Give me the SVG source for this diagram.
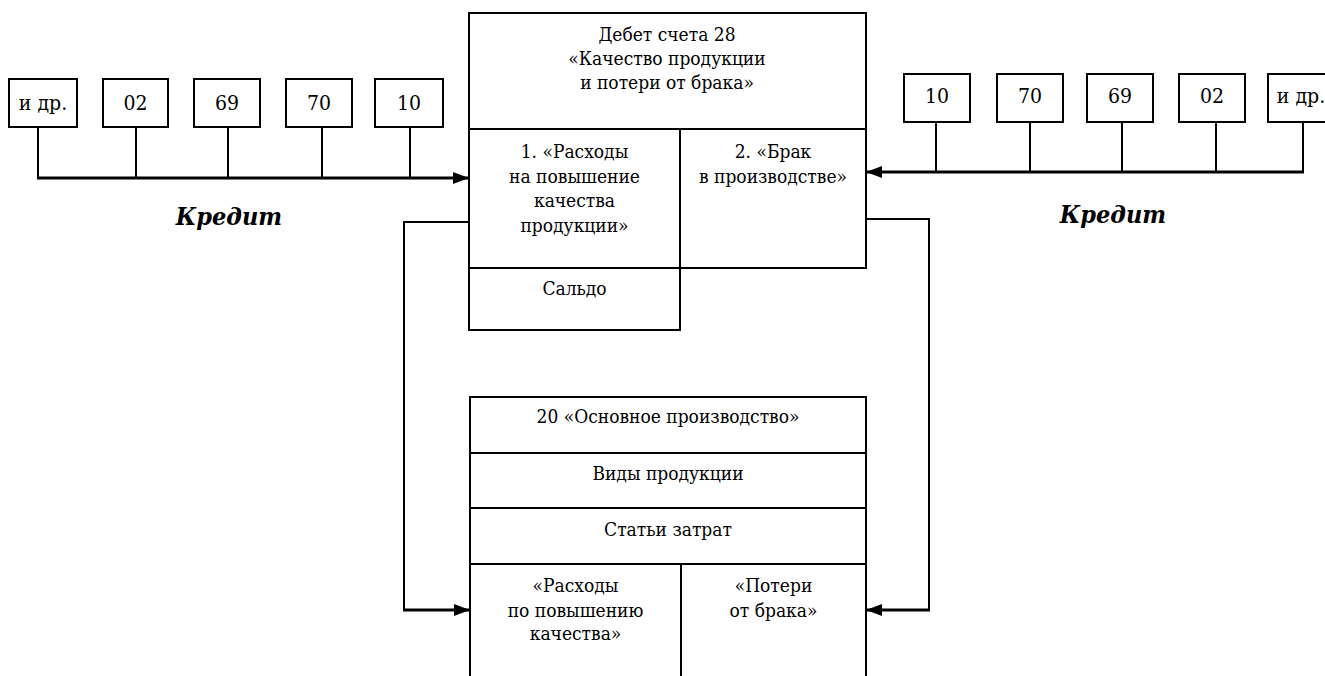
<svg xmlns="http://www.w3.org/2000/svg" width="1325" height="676" viewBox="0 0 1325 676">
<style>
.box{fill:#fff;stroke:#000;stroke-width:2}
.ln{fill:none;stroke:#000;stroke-width:2}
.thick{fill:none;stroke:#000;stroke-width:3}
text{fill:#000;text-anchor:middle;font-family:'DejaVu Serif Condensed','DejaVu Serif',serif;font-stretch:condensed}
.t{font-size:19px}
.s{font-size:21px}
.k{font-size:25px;font-weight:bold;font-style:italic}
</style>
<defs>
<marker id="ah" markerWidth="16" markerHeight="12" refX="16" refY="6" orient="auto" markerUnits="userSpaceOnUse">
<path d="M0,0 L16,6 L0,12 Z" fill="#000"/>
</marker>
</defs>
<rect width="1325" height="676" fill="#fff"/>
<g id="connectors">
<polyline class="ln" points="38,127 38,178"/>
<polyline class="ln" points="136,127 136,178"/>
<polyline class="ln" points="228,127 228,178"/>
<polyline class="ln" points="322,127 322,178"/>
<polyline class="ln" points="410,127 410,178"/>
<line class="thick" x1="37" y1="178" x2="469" y2="178" marker-end="url(#ah)"/>
<polyline class="ln" points="936,122 936,172"/>
<polyline class="ln" points="1030,122 1030,172"/>
<polyline class="ln" points="1122,122 1122,172"/>
<polyline class="ln" points="1216,122 1216,172"/>
<polyline class="ln" points="1303,122 1303,172"/>
<polyline class="thick" points="1304,172 866,172" marker-end="url(#ah)"/>
<polyline class="ln" points="469,222 404,222 404,610"/>
<line class="thick" x1="403" y1="610" x2="470" y2="610" marker-end="url(#ah)"/>
<polyline class="ln" points="866,219 929,219 929,610"/>
<line class="thick" x1="930" y1="610" x2="866" y2="610" marker-end="url(#ah)"/>
</g>
<g id="left-inputs">
<g id="l-idr"><rect class="box" x="9" y="79" width="68" height="48"/><text class="s" x="43" y="110">и др.</text></g>
<g id="l-02"><rect class="box" x="103" y="79" width="65" height="48"/><text class="s" x="135.5" y="110">02</text></g>
<g id="l-69"><rect class="box" x="194" y="79" width="66" height="48"/><text class="s" x="227" y="110">69</text></g>
<g id="l-70"><rect class="box" x="286" y="79" width="66" height="48"/><text class="s" x="319" y="110">70</text></g>
<g id="l-10"><rect class="box" x="375" y="79" width="68" height="48"/><text class="s" x="409" y="110">10</text></g>
<text id="kredit-left" class="k" x="229" y="225">Кредит</text>
</g>
<g id="right-inputs">
<g id="r-10"><rect class="box" x="904" y="74" width="66" height="48"/><text class="s" x="937" y="103">10</text></g>
<g id="r-70"><rect class="box" x="997" y="74" width="66" height="48"/><text class="s" x="1030" y="103">70</text></g>
<g id="r-69"><rect class="box" x="1087" y="74" width="66" height="48"/><text class="s" x="1120" y="103">69</text></g>
<g id="r-02"><rect class="box" x="1179" y="74" width="66" height="48"/><text class="s" x="1212" y="103">02</text></g>
<g id="r-idr"><rect class="box" x="1268" y="74" width="70" height="48"/><text class="s" x="1301" y="103">и др.</text></g>
<text id="kredit-right" class="k" x="1113" y="223">Кредит</text>
</g>
<g id="account28">
<rect class="box" x="469" y="13" width="397" height="116"/>
<text class="t" x="667" y="41">Дебет счета 28</text>
<text class="t" x="667" y="65">«Качество продукции</text>
<text class="t" x="667" y="89">и потери от брака»</text>
<g id="acc28-col1">
<rect class="box" x="469" y="129" width="211" height="139"/>
<text class="t" x="574.5" y="158">1. «Расходы</text>
<text class="t" x="574.5" y="183">на повышение</text>
<text class="t" x="574.5" y="207">качества</text>
<text class="t" x="574.5" y="232">продукции»</text>
</g>
<g id="acc28-col2">
<rect class="box" x="680" y="129" width="186" height="139"/>
<text class="t" x="773" y="158">2. «Брак</text>
<text class="t" x="773" y="183">в производстве»</text>
</g>
<g id="saldo">
<rect class="box" x="469" y="268" width="211" height="62"/>
<text class="t" x="574.5" y="295">Сальдо</text>
</g>
</g>
<g id="account20">
<rect class="box" x="470" y="397" width="396" height="56"/>
<text class="t" x="668" y="423">20 «Основное производство»</text>
<rect class="box" x="470" y="453" width="396" height="55"/>
<text class="t" x="668" y="480">Виды продукции</text>
<rect class="box" x="470" y="508" width="396" height="56"/>
<text class="t" x="668" y="536">Статьи затрат</text>
<g id="acc20-col1">
<path class="ln" d="M470,564 L681,564 M470,564 L470,680 M681,564 L681,680"/>
<text class="t" x="575.5" y="592">«Расходы</text>
<text class="t" x="575.5" y="617">по повышению</text>
<text class="t" x="575.5" y="640">качества»</text>
</g>
<g id="acc20-col2">
<path class="ln" d="M681,564 L866,564 L866,680"/>
<text class="t" x="773.5" y="592">«Потери</text>
<text class="t" x="773.5" y="617">от брака»</text>
</g>
</g>
</svg>
